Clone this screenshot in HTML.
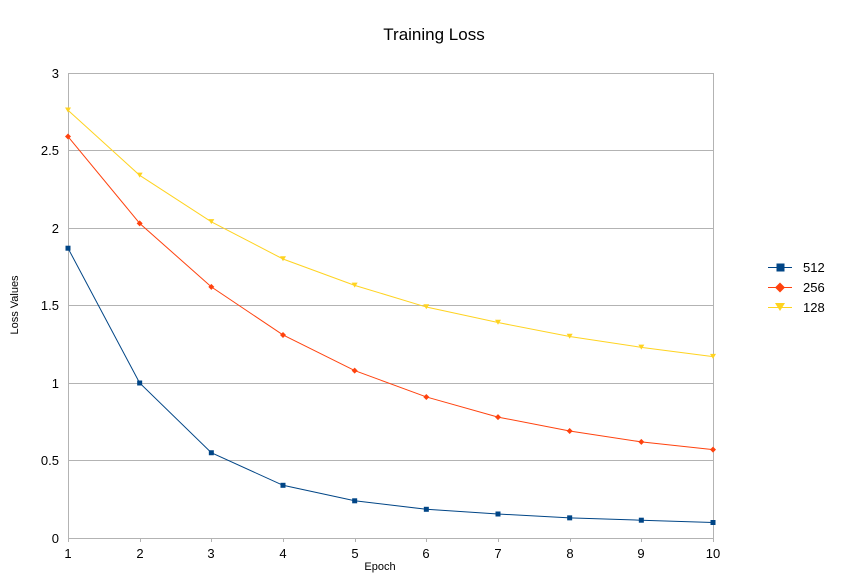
<!DOCTYPE html>
<html><head><meta charset="utf-8"><style>
html,body{margin:0;padding:0;background:#fff;}
svg{display:block;font-family:"Liberation Sans",sans-serif;}
</style></head><body>
<svg width="868" height="576" viewBox="0 0 868 576" xmlns="http://www.w3.org/2000/svg">
<rect width="868" height="576" fill="#fff"/>
<text x="434" y="40" font-size="17" text-anchor="middle" fill="#000">Training Loss</text>
<g stroke="#b3b3b3" stroke-width="1">
<line x1="68" y1="73.5" x2="713" y2="73.5"/>
<line x1="68" y1="150.5" x2="713" y2="150.5"/>
<line x1="68" y1="228.5" x2="713" y2="228.5"/>
<line x1="68" y1="305.5" x2="713" y2="305.5"/>
<line x1="68" y1="383.5" x2="713" y2="383.5"/>
<line x1="68" y1="460.5" x2="713" y2="460.5"/>
<line x1="68" y1="538.5" x2="713" y2="538.5"/>
<line x1="68.5" y1="73" x2="68.5" y2="538"/>
<line x1="713.5" y1="73" x2="713.5" y2="538"/>
</g>
<g stroke="#b3b3b3" stroke-width="1">
<line x1="68.5" y1="538" x2="68.5" y2="542"/><line x1="140.5" y1="538" x2="140.5" y2="542"/>
<line x1="211.5" y1="538" x2="211.5" y2="542"/><line x1="283.5" y1="538" x2="283.5" y2="542"/>
<line x1="355.5" y1="538" x2="355.5" y2="542"/><line x1="426.5" y1="538" x2="426.5" y2="542"/>
<line x1="498.5" y1="538" x2="498.5" y2="542"/><line x1="570.5" y1="538" x2="570.5" y2="542"/>
<line x1="641.5" y1="538" x2="641.5" y2="542"/><line x1="713.5" y1="538" x2="713.5" y2="542"/>
</g>
<g font-size="13" fill="#000" text-anchor="end">
<text x="59" y="78">3</text><text x="59" y="155">2.5</text><text x="59" y="233">2</text>
<text x="59" y="310">1.5</text><text x="59" y="388">1</text><text x="59" y="465">0.5</text><text x="59" y="543">0</text>
</g>
<g font-size="13" fill="#000" text-anchor="middle">
<text x="68" y="558">1</text><text x="140" y="558">2</text><text x="211" y="558">3</text><text x="283" y="558">4</text>
<text x="355" y="558">5</text><text x="426" y="558">6</text><text x="498" y="558">7</text><text x="570" y="558">8</text>
<text x="641" y="558">9</text><text x="713" y="558">10</text>
</g>
<text x="380" y="570" font-size="11" text-anchor="middle">Epoch</text>
<text transform="translate(18,305) rotate(-90)" font-size="11" text-anchor="middle">Loss Values</text>
<polyline fill="none" stroke="#ffd320" stroke-width="1" points="68,110.2 139.67,175.3 211.33,221.8 283,259 354.67,285.35 426.33,307.05 498,322.55 569.67,336.5 641.33,347.35 713,356.65"/>
<g fill="#ffd320">
<path d="M65,107.5h6l-3,5z"/><path d="M136.67,172.6h6l-3,5z"/><path d="M208.33,219.1h6l-3,5z"/><path d="M280,256.3h6l-3,5z"/><path d="M351.67,282.6h6l-3,5z"/><path d="M423.33,304.3h6l-3,5z"/><path d="M495,319.8h6l-3,5z"/><path d="M566.67,333.8h6l-3,5z"/><path d="M638.33,344.6h6l-3,5z"/><path d="M710,353.9h6l-3,5z"/>
</g>
<polyline fill="none" stroke="#ff420e" stroke-width="1" points="68,136.55 139.67,223.35 211.33,286.9 283,334.95 354.67,370.6 426.33,396.95 498,417.1 569.67,431.05 641.33,441.9 713,449.65"/>
<g fill="#ff420e">
<path d="M68,133.5l3,3l-3,3l-3,-3z"/><path d="M139.67,220.35l3,3l-3,3l-3,-3z"/><path d="M211.33,283.9l3,3l-3,3l-3,-3z"/><path d="M283,331.95l3,3l-3,3l-3,-3z"/><path d="M354.67,367.6l3,3l-3,3l-3,-3z"/><path d="M426.33,393.95l3,3l-3,3l-3,-3z"/><path d="M498,414.1l3,3l-3,3l-3,-3z"/><path d="M569.67,428.05l3,3l-3,3l-3,-3z"/><path d="M641.33,438.9l3,3l-3,3l-3,-3z"/><path d="M713,446.65l3,3l-3,3l-3,-3z"/>
</g>
<polyline fill="none" stroke="#004586" stroke-width="1" points="68,248.2 139.67,383 211.33,452.75 283,485.3 354.67,500.8 426.33,509.3 498,514 569.67,517.85 641.33,520.2 713,522.5"/>
<g fill="#004586">
<rect x="65.5" y="245.7" width="5" height="5"/><rect x="137.17" y="380.5" width="5" height="5"/><rect x="208.83" y="450.25" width="5" height="5"/><rect x="280.5" y="482.8" width="5" height="5"/><rect x="352.17" y="498.3" width="5" height="5"/><rect x="423.83" y="506.8" width="5" height="5"/><rect x="495.5" y="511.5" width="5" height="5"/><rect x="567.17" y="515.35" width="5" height="5"/><rect x="638.83" y="517.7" width="5" height="5"/><rect x="710.5" y="520" width="5" height="5"/>
</g>
<line x1="768" y1="267.5" x2="792" y2="267.5" stroke="#004586"/><rect x="776.5" y="263.5" width="8" height="8" fill="#004586"/>
<line x1="768" y1="287.5" x2="792" y2="287.5" stroke="#ff420e"/><path d="M780,282.5l5,5l-5,5l-5,-5z" fill="#ff420e"/>
<line x1="768" y1="307.5" x2="792" y2="307.5" stroke="#ffd320"/><path d="M775,303h10l-5,8z" fill="#ffd320"/>
<g font-size="13" fill="#000">
<text x="803" y="272">512</text><text x="803" y="292">256</text><text x="803" y="312">128</text>
</g>
</svg>
</body></html>
